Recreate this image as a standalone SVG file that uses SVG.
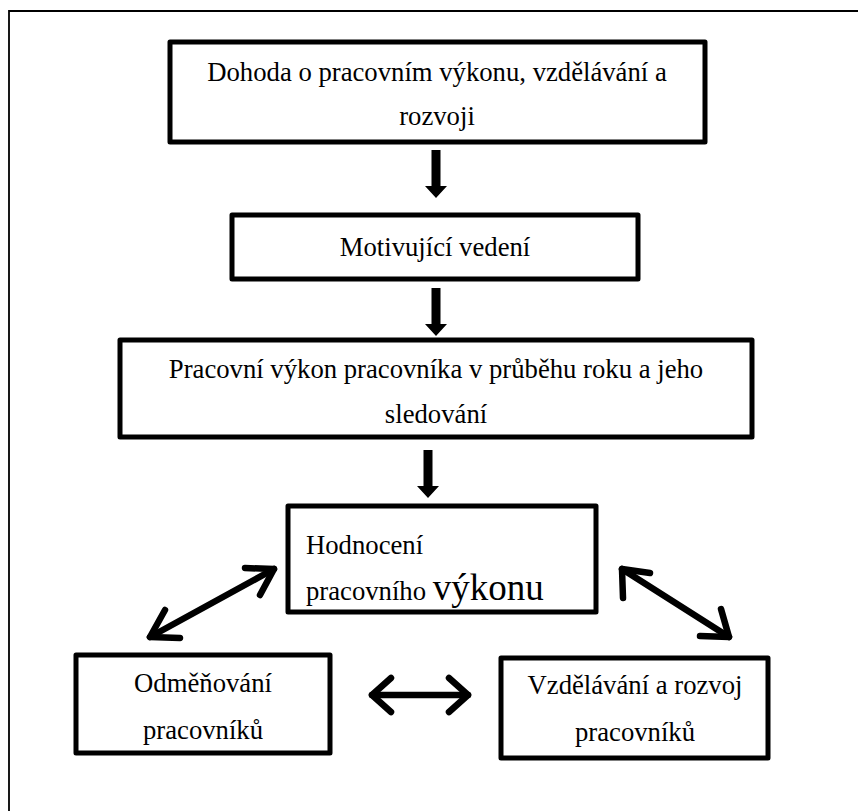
<svg xmlns="http://www.w3.org/2000/svg" width="858" height="811" viewBox="0 0 858 811">
  <style>
    .box { fill: #fff; stroke: #000; stroke-width: 5; stroke-linejoin: round; }
    .t { font-family: "Liberation Serif", "Times New Roman", serif; font-size: 26.7px; fill: #000; }
    .c { text-anchor: middle; }
    .dbl { fill: none; stroke: #000; stroke-width: 6.5; stroke-linecap: round; stroke-linejoin: round; }
  </style>
  <defs>
    <!-- solid down arrow: thick shaft with triangular head -->
    <path id="down" d="M-4.5,0 H4.5 V36 H11 L0,48 L-11,36 H-4.5 Z" fill="#000"/>
  </defs>

  <rect width="858" height="811" fill="#fff"/>
  <!-- page frame -->
  <path d="M9,811 V11 H858" fill="none" stroke="#000" stroke-width="1.8"/>

  <g id="n1">
    <rect class="box" x="170" y="42" width="535" height="100"/>
    <text class="t c" x="437" y="81">Dohoda o pracovním výkonu, vzdělávání a</text>
    <text class="t c" x="437" y="125">rozvoji</text>
  </g>

  <g id="n2">
    <rect class="box" x="232" y="215" width="406" height="64"/>
    <text class="t c" x="435" y="256">Motivující vedení</text>
  </g>

  <g id="n3">
    <rect class="box" x="120" y="340" width="632" height="97"/>
    <text class="t c" x="436" y="378" font-size="27.5">Pracovní výkon pracovníka v průběhu roku a jeho</text>
    <text class="t c" x="436" y="423" font-size="27.5">sledování</text>
  </g>

  <g id="n4">
    <rect class="box" x="288" y="506" width="308" height="106"/>
    <text class="t" x="306" y="554" font-size="27.5">Hodnocení</text>
    <text class="t" x="306" y="600" font-size="27.5">pracovního <tspan font-size="37">výkonu</tspan></text>
  </g>

  <g id="n5">
    <rect class="box" x="76" y="655" width="254" height="98"/>
    <text class="t c" x="203" y="692">Odměňování</text>
    <text class="t c" x="203" y="739">pracovníků</text>
  </g>

  <g id="n6">
    <rect class="box" x="501" y="658" width="267" height="100"/>
    <text class="t c" x="635" y="694">Vzdělávání a rozvoj</text>
    <text class="t c" x="635" y="741">pracovníků</text>
  </g>

  <g id="connectors">
    <use href="#down" x="436" y="150"/>
    <use href="#down" x="436" y="288"/>
    <use href="#down" x="428" y="450"/>

    <!-- Hodnocení <-> Odměňování -->
    <path class="dbl" d="M150,637 L274,569"/>
    <path class="dbl" d="M165,610 L150,637 L180,638"/>
    <path class="dbl" d="M245,568 L274,569 L260,595"/>

    <!-- Hodnocení <-> Vzdělávání -->
    <path class="dbl" d="M622,569 L729,637"/>
    <path class="dbl" d="M623,598 L622,569 L650,573"/>
    <path class="dbl" d="M700,636 L729,637 L721,609"/>

    <!-- Odměňování <-> Vzdělávání -->
    <path class="dbl" d="M372,695 L468,695"/>
    <path class="dbl" d="M391,678 L372,695 L391,712"/>
    <path class="dbl" d="M449,678 L468,695 L449,712"/>
  </g>
</svg>
